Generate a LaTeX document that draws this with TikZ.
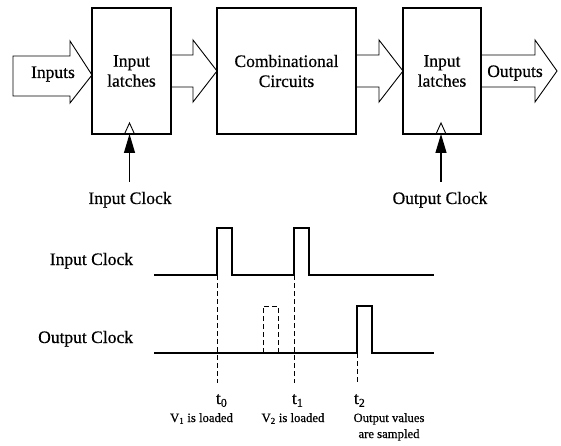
\documentclass[tikz,border=0pt]{standalone}
\usepackage{fontspec}
\setmainfont{Liberation Serif}[FakeBold=0.5]
\usetikzlibrary{arrows.meta,calc}
\begin{document}
\begin{tikzpicture}[x=1pt,y=-1pt,
  every node/.style={inner sep=0pt, outer sep=0pt},
  big/.style={font=\fontsize{17.5}{20}\selectfont},
  small/.style={font=\fontsize{12.7}{15}\selectfont},
  box/.style={draw, line width=1.2pt, minimum height=126pt, align=center, big},
  blk/.style={draw, line width=0.9pt, line join=miter},
  wave/.style={line width=1.2pt},
  guide/.style={line width=0.9pt, dash pattern=on 5pt off 3pt},
  clk/.style={line width=1.2pt, -{Triangle[length=19pt,width=11pt]}},
]
\useasboundingbox (0,0) rectangle (561,446);

% ---- block diagram ----
\node[box, minimum width=79pt] (inl) at (131.5,71) {Input\\latches};
\node[box, minimum width=139pt] (comb) at (286.5,71) {Combinational\\Circuits};
\node[box, minimum width=78pt] (outl) at (442,71) {Input\\latches};

% inputs arrow
\coordinate (intip) at ([yshift=-4pt]inl.west);
\draw[blk] (13,56) -- (70,56) -- (70,41) -- (intip) -- (70,103) -- (70,96) -- (13,96) -- cycle;
\node[big, anchor=base] (inlab) at (53,78) {Inputs};

% latches -> combinational
\draw[blk] (inl.east) ++(0,-16) -- ++(22,0) -- ++(0,-15) -- (comb.west)
  -- ++(-24,31) -- ++(0,-15) -- ++(-22,0);
% combinational -> output latches
\draw[blk] (comb.east) ++(0,-16) -- ++(23,0) -- ++(0,-15) -- (outl.west)
  -- ++(-24,31) -- ++(0,-15) -- ++(-23,0);
% outputs arrow
\coordinate (outtip) at (557,71);
\draw[blk] (outl.east) ++(0,-16) -- ++(54,0) -- ++(0,-15) -- (outtip)
  -- ++(-22,31) -- ++(0,-15) -- ++(-54,0);
\node[big, anchor=base] (outlab) at (515,77) {Outputs};

% clock triangles
\draw[line width=0.9pt] ([xshift=-7pt]inl.south) -- ++(5,-11) -- ++(5,11);
\draw[line width=0.9pt] ([xshift=-6pt]outl.south) -- ++(5,-11) -- ++(5,11);

% clock labels and arrows
\node[big, anchor=base] (inclk) at (130,204) {Input Clock};
\node[big, anchor=base] (outclk) at (440,204) {Output Clock};
\draw[clk] (inclk.north) ++(-0.5,-10) -- ([xshift=-2pt]inl.south);
\draw[clk] (outclk.north) ++(1,-10) -- ([xshift=-1pt]outl.south);

% ---- timing diagram ----
\node[big, anchor=base east] (inclkT) at (133,265) {Input Clock};
\node[big, anchor=base east] (outclkT) at (133,343) {Output Clock};

\coordinate (t0) at (217,275);
\coordinate (t1) at (294,275);
\coordinate (t2) at (357,353);

\draw[wave] (154,275) -- (t0) -- (217,228) -- (232,228) -- (232,275) -- (t1)
  -- (294,228) -- (309,228) -- (309,275) -- (434,275);
\draw[wave] (154,353) -- (t2) -- (357,306) -- (372,306) -- (372,353) -- (434,353);
\draw[guide] (263,353) -- (263,306) -- (278,306) -- (278,353);

\draw[guide] (t0) -- (217,383);
\draw[guide] (t1) -- (294,383);
\draw[guide] (t2) -- (357,383);

\node[big, anchor=base west] (lt0) at (216,404) {t\raisebox{-0.35ex}{\fontsize{12}{12}\selectfont 0}};
\node[big, anchor=base west] (lt1) at (292,404) {t\raisebox{-0.35ex}{\fontsize{12}{12}\selectfont 1}};
\node[big, anchor=base west] (lt2) at (354,404) {t\raisebox{-0.35ex}{\fontsize{12}{12}\selectfont 2}};

\node[small, anchor=base] (v1) at (201.5,422) {V\textsubscript{1} is loaded};
\node[small, anchor=base] (v2) at (293,422) {V\textsubscript{2} is loaded};
\node[small, anchor=base] (ov) at (389,422) {Output values};
\node[small, anchor=base] (as) at (389,438) {are sampled};
\end{tikzpicture}
\end{document}
